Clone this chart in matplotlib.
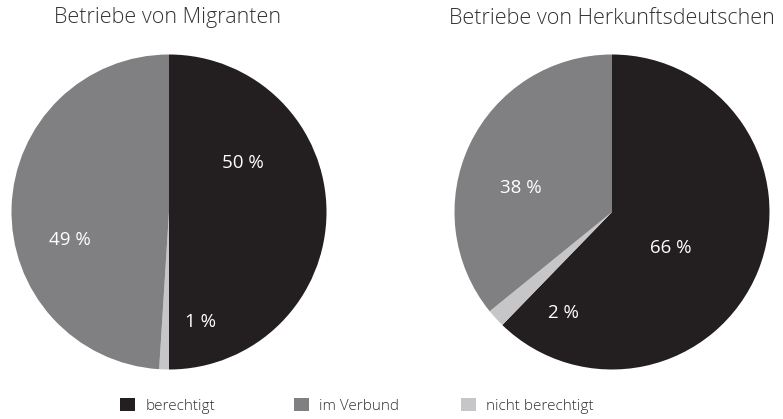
import matplotlib.pyplot as plt
from matplotlib.patches import Patch

plt.rcParams['font.family'] = ['Open Sans', 'DejaVu Sans']

categories = ["berechtigt", "nicht berechtigt", "im Verbund"]
colours = ["#231f20", "#c6c6c8", "#808083"]
titles = ["Betriebe von Migranten", "Betriebe von Herkunftsdeutschen"]
values_migr = [50, 1, 49]
values_herk = [66, 2, 38]
labels_migr = ["50 %", "1 %", "49 %"]
labels_herk = ["66 %", "2 %", "38 %"]
legend_order = ["berechtigt", "im Verbund", "nicht berechtigt"]

# label spots, in pie radius units from the centre
lab_pos_migr = [(0.47, 0.31), (0.20, -0.70), (-0.63, -0.18)]
lab_pos_herk = [(0.37, -0.23), (-0.31, -0.64), (-0.58, 0.15)]

W, H = 783, 419
fig = plt.figure(figsize=(W / 100, H / 100), dpi=100)
R = 157.5

def pie_ax(cx, cy):
    return fig.add_axes([(cx - R) / W, (H - cy - R) / H, 2 * R / W, 2 * R / H])

for cx, tx, vals, labs, pos, title in [(169, 167, values_migr, labels_migr, lab_pos_migr, titles[0]),
                                       (612, 612, values_herk, labels_herk, lab_pos_herk, titles[1])]:
    ax = pie_ax(cx, 212)
    ax.pie(vals, colors=colours, startangle=90, counterclock=False, radius=1,
           wedgeprops=dict(linewidth=0))
    for t, (dx, dy) in zip(labs, pos):
        ax.text(dx, dy, t, color="white", fontsize=13.5, ha="center", va="center")
    ax.set_xlim(-1, 1)
    ax.set_ylim(-1, 1)
    ax.set_aspect("equal")
    ax.axis("off")
    fig.text(tx / W, 1 - 18 / H, title, ha="center", va="center",
             fontsize=15.5, color="#333333", fontweight="light")

# legend, one entry per block
leg_x = [120, 294, 461]
for name, x in zip(legend_order, leg_x):
    c = colours[categories.index(name)]
    fig.legend(handles=[Patch(facecolor=c, edgecolor="none")], labels=[name],
               loc="center left", bbox_to_anchor=(x / W, 1 - 406 / H), frameon=False,
               handlelength=0.95, handleheight=0.95, handletextpad=0.7,
               borderaxespad=0, borderpad=0, labelcolor="#333333",
               prop=dict(family="Open Sans", weight="light", size=11))

fig.savefig("out.png", dpi=100)
